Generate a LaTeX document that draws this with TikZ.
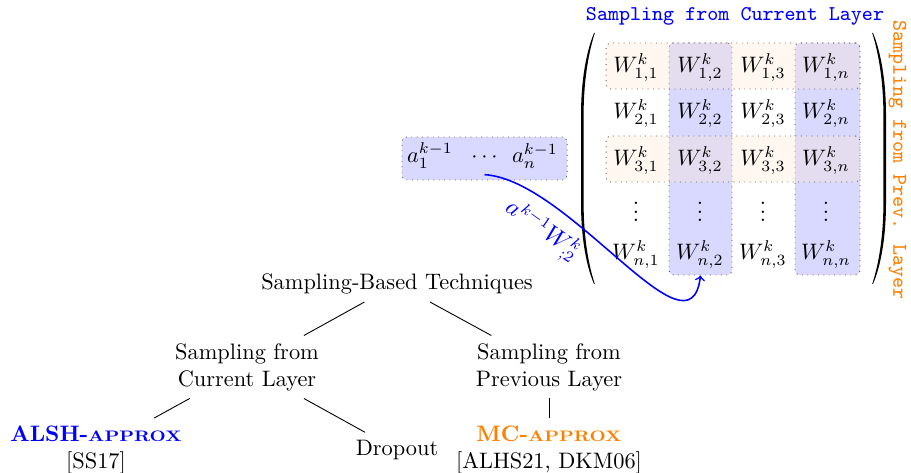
\documentclass[tikz,border=0pt]{standalone}
\usepackage{graphicx}
\newcommand{\fksc}[1]{\scalebox{0.84}[0.68]{#1}}
\begin{document}
\begin{tikzpicture}[x=0.447pt,y=-0.447pt,
  tnode/.style={align=center, inner sep=3.33pt},
  cellnode/.style={anchor=base, inner sep=1pt},
  rowhl/.style={fill=orange!20, fill opacity=0.3, draw=black!65, draw opacity=1, dotted, rounded corners=2pt, inner sep=0pt},
  colhl/.style={fill=blue!15, draw=black!65, dotted, rounded corners=2pt, inner sep=0pt},
  ttl/.style={font=\fontsize{9.4}{11}\selectfont\ttfamily},
  treeedge/.style={draw=black, line width=0.4pt},
  parenfill/.style={fill=black},
]
\useasboundingbox (0,0) rectangle (911,473);

% column highlights
\node[colhl, minimum width=28.16pt, minimum height=103.7pt] (col2) at (700.5,159) {};
\node[colhl, minimum width=29.06pt, minimum height=103.7pt] (col4) at (827.5,159) {};
% row highlights
\node[rowhl, minimum width=113.5pt, minimum height=20.56pt] (row1) at (733,66) {};
\node[rowhl, minimum width=113.5pt, minimum height=20.56pt] (row3) at (733,159) {};

% matrix entries
\foreach \j/\cx in {1/636, 2/700, 3/763, n/826}{
  \foreach \i/\cy in {1/72.7, 2/119, 3/165.5, n/260}{
    \node[cellnode] (m-\i-\j) at (\cx,\cy) {$W^k_{\i,\j}$};
  }
  \node[cellnode] (v-\j) at (\cx,222) {$\vdots$};
}

% parentheses
\path[parenfill] (594,33) .. controls (585,55) and (581,85) .. (581,115) -- (581,203)
  .. controls (581,233) and (585,263) .. (594,284)
  -- (594.8,284) .. controls (587.5,262) and (583.6,233) .. (583.6,203) -- (583.6,115)
  .. controls (583.6,85) and (587.5,56) .. (594.8,33) -- cycle;
\path[parenfill] (873,33) .. controls (882,55) and (886,85) .. (886,115) -- (886,203)
  .. controls (886,233) and (882,263) .. (873,284)
  -- (872.2,284) .. controls (879.5,262) and (883.4,233) .. (883.4,203) -- (883.4,115)
  .. controls (883.4,85) and (879.5,56) .. (872.2,33) -- cycle;

% titles
\node[ttl, text=blue] (ttop) at (735,16) {Sampling from Current Layer};
\node[ttl, text=orange, rotate=-90] (tside) at (897.5,160) {Sampling from Prev. Layer};

% vector
\node[colhl, minimum width=73.8pt, minimum height=19.2pt] (avec) at (484.5,158.5) {};
\node[cellnode] (a1) at (430,163) {$a_1^{k-1}$};
\node[anchor=base, inner xsep=1pt, inner ysep=5pt] (cdots) at (484.5,163) {$\cdots$};
\node[cellnode] (an) at (535,163) {$a_n^{k-1}$};

% curved arrow
\draw[blue, line width=0.7pt, ->] (cdots.south) .. controls (570,180) and (690,365) .. (col2.south);
\node[text=blue, rotate=-35, inner sep=0pt, font=\fontsize{10.5}{12}\selectfont] (lbl) at (542,231) {$a^{k-1}W^k_{;2}$};

% tree
\node[tnode] (root) at (397,284) {Sampling-Based Techniques};
\node[tnode] (cur) at (247,367) {Sampling from\\Current Layer};
\node[tnode] (prev) at (549,367) {Sampling from\\Previous Layer};
\node[tnode] (alsh) at (96,450) {\textcolor{blue}{\textbf{ALSH-\fksc{APPROX}}}\\{[SS17]}};
\node[tnode] (drop) at (397,450) {Dropout};
\node[tnode] (mc) at (549,450) {\textcolor{orange}{\textbf{MC-\fksc{APPROX}}}\\{[ALHS21, DKM06]}};

\draw[treeedge] (root) -- (cur);
\draw[treeedge] (root) -- (prev);
\draw[treeedge] (cur) -- (alsh);
\draw[treeedge] (cur) -- (drop);
\draw[treeedge] (prev) -- (mc);
\end{tikzpicture}
\end{document}
